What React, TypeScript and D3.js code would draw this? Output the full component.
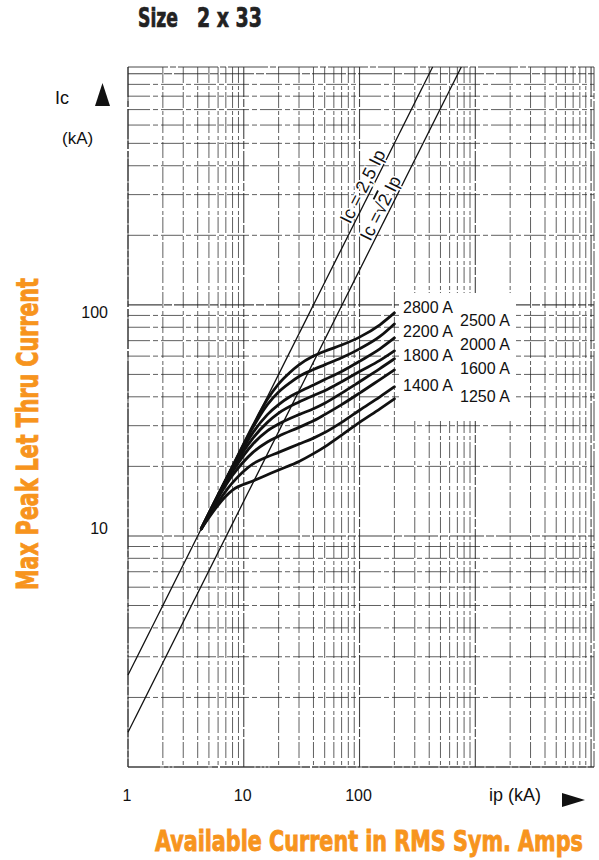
import React, { useLayoutEffect, useRef, useState } from 'react';
import * as d3 from 'd3';

// ---- data (Ip in kA, Ic in kA) ----
const ratings = ['2800 A', '2500 A', '2200 A', '2000 A', '1800 A', '1600 A', '1400 A', '1250 A'];

const c2800: [number, number][] = [[4.3, 10.75], [8, 20], [12, 30], [16, 39], [20, 45.5], [25, 51], [30, 55], [40, 60], [50, 63], [70, 67], [100, 72.5], [150, 82], [200, 92.3]];
const c2500: [number, number][] = [[4.3, 10.75], [8, 20], [12, 29.5], [16, 37], [20, 42], [25, 46], [30, 49], [40, 52.5], [50, 55], [70, 59], [100, 64.5], [150, 73], [200, 82.7]];
const c2200: [number, number][] = [[4.3, 10.75], [8, 19.8], [12, 28], [16, 33.5], [20, 37], [25, 40], [30, 42], [40, 45], [50, 47.5], [70, 51.5], [100, 57], [150, 64.5], [200, 71.9]];
const c2000: [number, number][] = [[4.3, 10.75], [8, 19.5], [12, 26.5], [16, 31], [20, 34], [30, 38], [40, 40.5], [50, 42.5], [70, 46.5], [100, 51.5], [150, 57.5], [200, 63.2]];
const c1800: [number, number][] = [[4.3, 10.75], [8, 19], [12, 25], [16, 28.5], [20, 30.5], [30, 33.5], [40, 35.5], [50, 37.5], [70, 41.5], [100, 46.5], [150, 53], [200, 58.4]];
const c1600: [number, number][] = [[4.3, 10.75], [8, 18.3], [12, 23], [16, 25.5], [20, 27], [30, 29.5], [40, 31.5], [50, 33.5], [70, 37], [100, 41.5], [150, 47.5], [200, 52.3]];
const c1400: [number, number][] = [[4.3, 10.75], [8, 17], [12, 20.5], [16, 22], [20, 23], [30, 25], [40, 26.5], [50, 28], [70, 31], [100, 35], [150, 40], [200, 44.2]];
const c1250: [number, number][] = [[4.3, 10.75], [8, 15.8], [12, 17.3], [16, 18.4], [20, 19.3], [30, 21], [40, 22.7], [50, 24.3], [70, 27.3], [100, 31], [150, 35.5], [200, 39.2]];
const curves = [c2800, c2500, c2200, c2000, c1800, c1600, c1400, c1250];

const ratioLines = [2.5, Math.SQRT2];
const xTickLabels = ['1', '10', '100'];
const xTickValues = [1, 10, 100];
const yTickLabels = ['100', '10'];
const yTickValues = [100, 10];

const ORANGE = '#F7941D';
const NARROW = '"Liberation Sans Narrow", "DejaVu Sans Condensed", "Roboto Condensed", sans-serif';
const SANS = '"Liberation Sans", Arial, Helvetica, sans-serif';

// Text scaled horizontally to an exact width (measured at runtime)
function FitText(props: {
  x: number;
  y: number;
  width: number;
  rotate?: number;
  fontSize: number;
  fill: string;
  strokeWidth?: number;
  children: string;
}) {
  const ref = useRef<SVGTextElement>(null);
  const [sx, setSx] = useState(1);
  useLayoutEffect(() => {
    if (ref.current) {
      const w = ref.current.getComputedTextLength();
      if (w > 0) setSx(props.width / w);
    }
  }, [props.width, props.children, props.fontSize]);
  const rot = props.rotate ? ` rotate(${props.rotate})` : '';
  return (
    <g transform={`translate(${props.x},${props.y})${rot} scale(${sx},1)`}>
      <text
        ref={ref}
        x={0}
        y={0}
        fontFamily={NARROW}
        fontWeight="bold"
        fontSize={props.fontSize}
        fill={props.fill}
        stroke={props.fill}
        strokeWidth={props.strokeWidth ?? 0.8}
      >
        {props.children}
      </text>
    </g>
  );
}

export default function App() {
  const x = d3.scaleLog().domain([1, 10600]).range([128, 594]);
  const y = d3.scaleLog().domain([1, 1070]).range([767, 67]);
  const [x0, x1] = x.range();
  const [y0, y1] = y.range();

  const xGrid = x.ticks();
  const yGrid = y.ticks();
  const isDecade = (v: number) => Math.abs(Math.log10(v) - Math.round(Math.log10(v))) < 1e-9;

  const line = d3
    .line<[number, number]>()
    .x((d) => x(d[0]))
    .y((d) => y(d[1]));

  const ratioPath = (k: number) => {
    const ipTop = 1070 / k;
    return line.curve(d3.curveLinear)([
      [1, k],
      [ipTop, 1070],
    ]) as string;
  };
  const angle = (-Math.atan2(y(1) - y(10), x(10) - x(1)) * 180) / Math.PI;

  const labelFor = (k: number, ip: number, off: number) => {
    const px = x(ip);
    const py = y(k * ip);
    const rad = (angle * Math.PI) / 180;
    const ux = Math.sin(rad);
    const uy = -Math.cos(rad);
    return { px: px + ux * off, py: py + uy * off };
  };
  const l1 = labelFor(2.5, 125, 3);
  const l2 = labelFor(Math.SQRT2, 178, 3);

  const leftLabels = [0, 2, 4, 6];
  const rightLabels = [1, 3, 5, 7];
  const leftY = [313, 337, 361, 391];
  const rightY = [326, 350, 374, 402];

  return (
    <svg
      width={599}
      height={860}
      viewBox="0 0 599 860"
      style={{ position: 'absolute', left: 0, top: 0, background: '#fff' }}
    >
      <rect x={0} y={0} width={599} height={860} fill="#fff" />
      {/* grid */}
      <g>
        {xGrid.map((v, i) => (
          <line
            key={'vx' + i}
            x1={x(v)}
            x2={x(v)}
            y1={y1}
            y2={y0}
            stroke="#222"
            strokeWidth={isDecade(v) ? 1.1 : 0.85}
            strokeOpacity={0.85}
            strokeDasharray={isDecade(v) ? '30 2 8 2' : '16 3 4 2'}
          />
        ))}
        {yGrid.map((v, i) => (
          <line
            key={'hy' + i}
            x1={x0}
            x2={x1}
            y1={y(v)}
            y2={y(v)}
            stroke="#222"
            strokeWidth={isDecade(v) ? 1.1 : 0.85}
            strokeOpacity={0.85}
            strokeDasharray={isDecade(v) ? '34 2 8 2' : '22 3 5 3'}
          />
        ))}
        <rect x={x0} y={y1} width={x1 - x0} height={y0 - y1} fill="none" stroke="#333" strokeWidth={0.9} strokeDasharray="40 2 6 2" />
      </g>

      {/* label box area */}
      <rect x={399} y={293} width={117} height={128} fill="#fff" />

      {/* ratio lines */}
      {ratioLines.map((k, i) => (
        <path key={'r' + i} d={ratioPath(k)} fill="none" stroke="#111" strokeWidth={1.3} />
      ))}

      {/* curves */}
      {curves.map((c, i) => (
        <path
          key={'c' + i}
          d={line.curve(d3.curveMonotoneX)(c) as string}
          fill="none"
          stroke="#111"
          strokeWidth={2.8}
          strokeLinecap="round"
          strokeLinejoin="round"
        />
      ))}

      {/* ratio labels */}
      <text
        transform={`translate(${l1.px},${l1.py}) rotate(${angle})`}
        textAnchor="middle"
        fontFamily={SANS}
        fontSize={18}
        fill="#111"
        stroke="#fff"
        strokeWidth={3}
        paintOrder="stroke"
      >
        Ic = 2,5 Ip
      </text>
      <text
        transform={`translate(${l2.px},${l2.py}) rotate(${angle})`}
        textAnchor="middle"
        fontFamily={SANS}
        fontSize={18}
        fill="#111"
        stroke="#fff"
        strokeWidth={3}
        paintOrder="stroke"
      >
        Ic =√<tspan style={{ textDecoration: 'overline' }}>2</tspan> Ip
      </text>

      {/* rating labels */}
      {leftLabels.map((idx, i) => (
        <text key={'ll' + i} x={403} y={leftY[i]} fontFamily={SANS} fontSize={16} fill="#111">
          {ratings[idx]}
        </text>
      ))}
      {rightLabels.map((idx, i) => (
        <text key={'rl' + i} x={460} y={rightY[i]} fontFamily={SANS} fontSize={16} fill="#111">
          {ratings[idx]}
        </text>
      ))}

      {/* axis tick labels */}
      {xTickValues.map((v, i) => (
        <text key={'xt' + i} x={x(v) - 1} y={801} textAnchor="middle" fontFamily={SANS} fontSize={16} fill="#111">
          {xTickLabels[i]}
        </text>
      ))}
      {yTickValues.map((v, i) => (
        <text key={'yt' + i} x={108} y={y(v) + (v === 100 ? 13 : -2)} textAnchor="end" fontFamily={SANS} fontSize={16} fill="#111">
          {yTickLabels[i]}
        </text>
      ))}

      {/* axis names */}
      <text x={55} y={104} fontFamily={SANS} fontSize={18} fill="#111">Ic</text>
      <polygon points="95,106 110,106 102.5,83" fill="#111" />
      <text x={62} y={144} fontFamily={SANS} fontSize={17} fill="#111">(kA)</text>
      <text x={489} y={801} fontFamily={SANS} fontSize={18} fill="#111">ip (kA)</text>
      <polygon points="562,793 562,807 585,800" fill="#111" />

      {/* title */}
      <FitText x={138} y={27} width={40} fontSize={27} fill="#222" strokeWidth={0.7}>Size</FitText>
      <FitText x={197} y={27} width={65} fontSize={27} fill="#222" strokeWidth={0.7}>2 x 33</FitText>

      {/* orange axis titles */}
      <FitText x={38} y={590} rotate={-90} width={312} fontSize={30} fill={ORANGE} strokeWidth={0.9}>
        Max Peak Let Thru Current
      </FitText>
      <FitText x={155} y={851} width={428} fontSize={29} fill={ORANGE} strokeWidth={0.9}>
        Available Current in RMS Sym. Amps
      </FitText>
    </svg>
  );
}
